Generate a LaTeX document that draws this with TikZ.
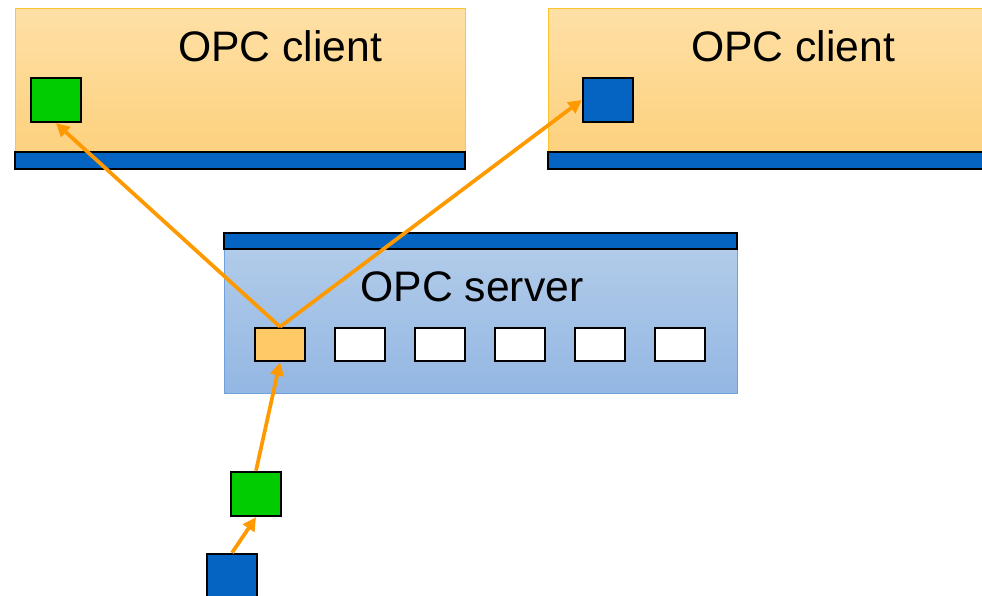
\documentclass[tikz,border=0pt]{standalone}
\usepackage{fontspec}
\setmainfont{Liberation Sans}
\usetikzlibrary{arrows.meta}
\definecolor{clienttop}{HTML}{FEE0A6}
\definecolor{clientbot}{HTML}{FDD17E}
\definecolor{clientedge}{HTML}{FFC430}
\definecolor{servertop}{HTML}{B1CBE9}
\definecolor{serverbot}{HTML}{93B7E3}
\definecolor{serveredge}{HTML}{6FA2DA}
\definecolor{barblue}{HTML}{0563C1}
\definecolor{sqgreen}{HTML}{00CC00}
\definecolor{slotorange}{HTML}{FFC966}
\definecolor{arroworange}{HTML}{FF9900}
\begin{document}
\begin{tikzpicture}[x=0.75pt,y=-0.75pt,
  clientbox/.style={draw=clientedge,line width=0.75pt,top color=clienttop,bottom color=clientbot,inner sep=0pt,minimum width=337.5pt,minimum height=108pt},
  serverbox/.style={draw=serveredge,line width=0.75pt,top color=servertop,bottom color=serverbot,inner sep=0pt,minimum width=384.75pt,minimum height=108pt},
  bar/.style={draw=black,line width=1.8pt,fill=barblue,inner sep=0pt,minimum height=12.5pt},
  sq/.style={draw=black,line width=1.8pt,inner sep=0pt,minimum width=37.5pt,minimum height=33pt},
  slot/.style={draw=black,line width=1.8pt,inner sep=0pt,minimum width=37.5pt,minimum height=24.75pt},
  lbl/.style={inner sep=0pt,font=\fontsize{32}{38}\selectfont},
  conn/.style={draw=arroworange,line width=2.8pt,-{Triangle[length=10pt,width=10pt]}}]
\useasboundingbox (0,0) rectangle (982,596);
\clip (0,0) rectangle (982,596);
% clients
\node[clientbox] (c1) at (240,80) {};
\node[bar,minimum width=337.5pt] (c1bar) at (240,160.5) {};
\node[lbl] (c1t) at (280,46) {OPC client};
\node[sq,fill=sqgreen] (cg) at (56,100) {};
\node[clientbox] (c2) at (773,80) {};
\node[bar,minimum width=337.5pt] (c2bar) at (773,160.5) {};
\node[lbl] (c2t) at (793,46) {OPC client};
\node[sq,fill=barblue] (cb) at (608,100) {};
% server
\node[serverbox] (srv) at (480.5,321) {};
\node[bar,minimum width=384.75pt,minimum height=12pt] (srvbar) at (480.5,241) {};
\node[lbl] (srvt) at (472,287) {OPC server};
\node[slot,fill=slotorange] (s1) at (280,344.5) {};
\node[slot,fill=white] (s2) at (360,344.5) {};
\node[slot,fill=white] (s3) at (440,344.5) {};
\node[slot,fill=white] (s4) at (520,344.5) {};
\node[slot,fill=white] (s5) at (600,344.5) {};
\node[slot,fill=white] (s6) at (680,344.5) {};
% bottom devices
\node[sq,fill=sqgreen] (bg) at (256,494) {};
\node[sq,fill=barblue] (bb) at (232,576) {};
% connectors
\draw[conn] (s1.north) -- (cg.south);
\draw[conn] (s1.north) -- (cb.west);
\draw[conn] (bg.north) -- (s1.south);
\draw[conn] (bb.north) -- (bg.south);
\end{tikzpicture}
\end{document}
